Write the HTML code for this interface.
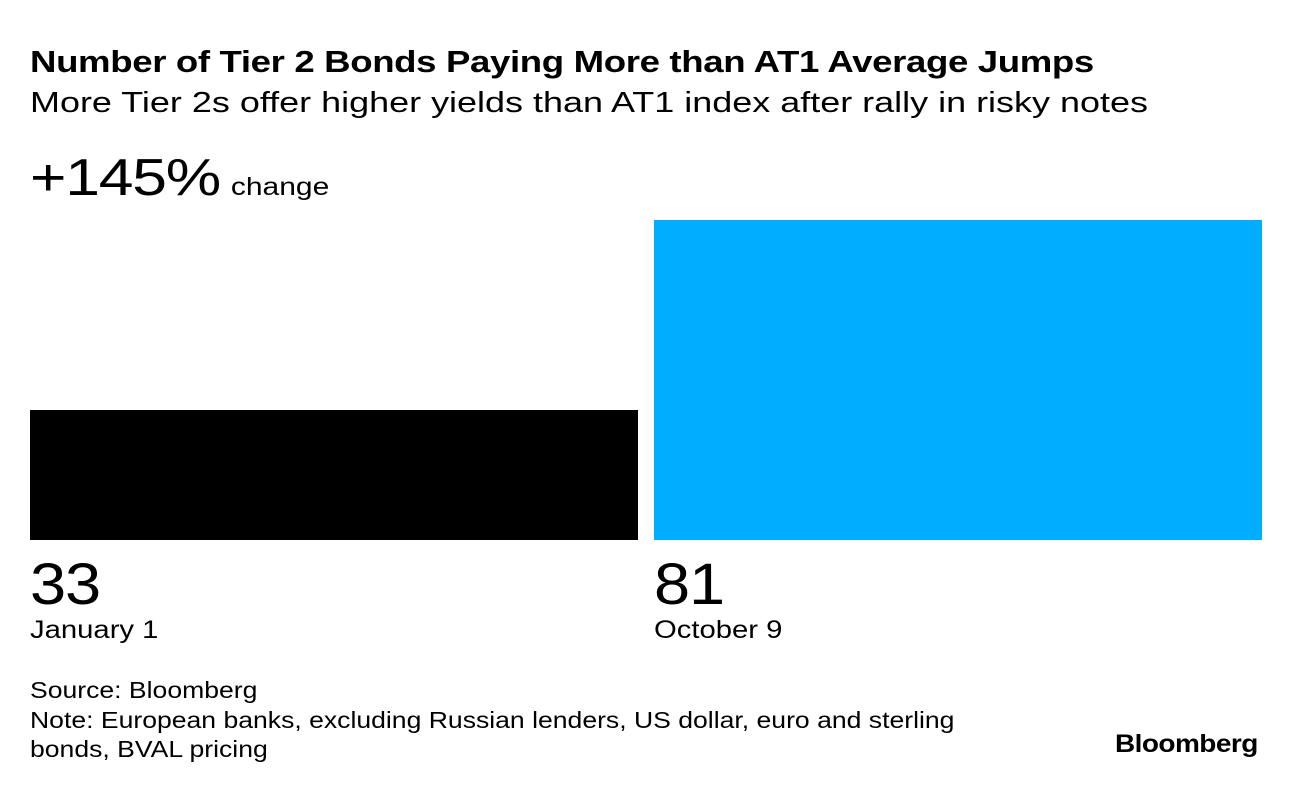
<!DOCTYPE html>
<html><head><meta charset="utf-8"><style>
body{margin:0;width:1296px;height:788px;background:#fff;font-family:"Liberation Sans",Arial,sans-serif;color:#000;position:relative;overflow:hidden}
.a{position:absolute;white-space:nowrap;transform-origin:0 0}
</style></head><body>
<div class="a" style="left:30px;top:44px;font-size:31px;font-weight:bold;letter-spacing:-0.3px;transform:scaleX(1.18)">Number of Tier 2 Bonds Paying More than AT1 Average Jumps</div>
<div class="a" style="left:30px;top:87px;font-size:29px;transform:scaleX(1.24)">More Tier 2s offer higher yields than AT1 index after rally in risky notes</div>
<div class="a" style="left:30px;top:148px;font-size:52px;letter-spacing:-1px;transform:scaleX(1.2)">+145%<span style="font-size:25px;letter-spacing:0;margin-left:9px">change</span></div>
<div id="chart"></div>
<div class="a" style="left:30px;top:676px;font-size:23px;line-height:29.5px;transform:scaleX(1.155)">Source: Bloomberg<br>Note: European banks, excluding Russian lenders, US dollar, euro and sterling<br>bonds, BVAL pricing</div>
<div class="a" style="left:1115px;top:730px;font-size:25px;font-weight:bold;letter-spacing:-0.5px;transform:scaleX(1.12)">Bloomberg</div>
<script>
const categories=["January 1","October 9"];
const values=[33,81];
const colors=["#000000","#00adff"];
const baseY=540, maxH=320, maxV=81;
function y(v){return baseY-v/maxV*maxH;}
const lefts=[30,654], w=608;
const root=document.getElementById('chart');
categories.forEach((c,i)=>{
  const b=document.createElement('div');
  b.className='a';
  
  
  b.style.cssText=`left:${lefts[i]}px;top:${y(values[i])}px;width:${w}px;height:${baseY-y(values[i])}px;background:${colors[i]}`;
  root.appendChild(b);
  const n=document.createElement('div');
  n.className='a';
  
  
  n.style.cssText=`left:${lefts[i]}px;top:551px;font-size:58px;letter-spacing:-1px;transform:scaleX(1.12)`;
  n.textContent=values[i];
  root.appendChild(n);
  const l=document.createElement('div');
  l.className='a';
  
  
  l.style.cssText=`left:${lefts[i]}px;top:616px;font-size:25px;transform:scaleX(1.17)`;
  l.textContent=c;
  root.appendChild(l);
});
</script>
</body></html>
